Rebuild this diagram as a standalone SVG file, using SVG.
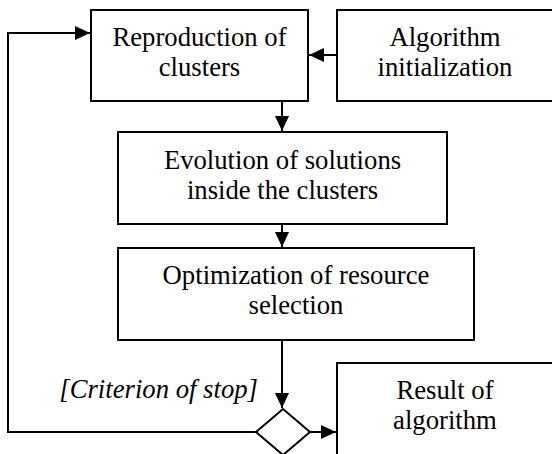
<svg xmlns="http://www.w3.org/2000/svg" width="552" height="454" viewBox="0 0 552 454">
  <style>
    .box { fill: #ffffff; stroke: #000000; stroke-width: 2; }
    .lbl { font-size: 26.7px; fill: #000000; text-anchor: middle; }
    .cond { font-size: 26.7px; font-style: italic; fill: #000000; }
    .wire { fill: none; stroke: #000000; stroke-width: 2; }
  </style>
  <defs>
    <marker id="arrow" markerUnits="userSpaceOnUse" markerWidth="16" markerHeight="14" refX="15" refY="7" orient="auto">
      <path d="M0,0 L15,7 L0,14 Z" fill="#000000"/>
    </marker>
  </defs>
  <rect width="552" height="454" fill="#ffffff"/>

  <g id="connectors">
    <!-- feedback loop back to reproduction -->
    <path class="wire" d="M256,432 H8 V33 H90" marker-end="url(#arrow)"/>
    <!-- initialization feeds reproduction -->
    <path class="wire" d="M337,55 H309" marker-end="url(#arrow)"/>
    <!-- main flow downwards -->
    <path class="wire" d="M282,101 V131" marker-end="url(#arrow)"/>
    <path class="wire" d="M282,224 V247" marker-end="url(#arrow)"/>
    <path class="wire" d="M282,340 V408" marker-end="url(#arrow)"/>
    <!-- exit to result -->
    <path class="wire" d="M310,432 H336" marker-end="url(#arrow)"/>
  </g>

  <g font-family="'Liberation Serif', 'Times New Roman', Times, 'DejaVu Serif', serif">
    <g id="reproduction">
      <rect class="box" x="91" y="10" width="217" height="91"/>
      <text class="lbl" x="199.5" y="46">Reproduction of</text>
      <text class="lbl" x="199.5" y="76">clusters</text>
    </g>

    <g id="initialization">
      <rect class="box" x="337" y="10" width="216" height="91"/>
      <text class="lbl" x="445" y="46">Algorithm</text>
      <text class="lbl" x="445" y="76">initialization</text>
    </g>

    <g id="evolution">
      <rect class="box" x="118" y="132" width="329" height="92"/>
      <text class="lbl" x="282.5" y="169">Evolution of solutions</text>
      <text class="lbl" x="282.5" y="199">inside the clusters</text>
    </g>

    <g id="optimization">
      <rect class="box" x="118" y="248" width="356" height="92"/>
      <text class="lbl" x="296" y="284">Optimization of resource</text>
      <text class="lbl" x="296" y="314">selection</text>
    </g>

    <g id="decision">
      <polygon class="box" points="283,409 310,432 283,455 256,432"/>
      <text class="cond" x="258" y="398" text-anchor="end">[Criterion of stop]</text>
    </g>

    <g id="result">
      <rect class="box" x="337" y="363" width="216" height="100"/>
      <text class="lbl" x="445" y="399">Result of</text>
      <text class="lbl" x="445" y="429">algorithm</text>
    </g>
  </g>
</svg>
